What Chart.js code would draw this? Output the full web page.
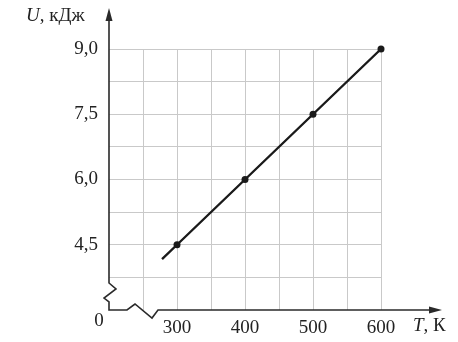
<!DOCTYPE html>
<html>
<head>
<meta charset="utf-8">
<script src="https://cdn.jsdelivr.net/npm/chart.js@4"></script>
<style>
  html, body { margin: 0; padding: 0; background: #fff; }
  #wrap { width: 458px; height: 342px; }
</style>
</head>
<body>
<div id="wrap"><canvas id="chart"></canvas></div>
<script>
// Дані графіка
const temps = [300, 400, 500, 600];        // T, K
const energies = [4.5, 6.0, 7.5, 9.0];     // U, кДж
const lineStart = [278, 4.17];             // початок прямої (без точки)
const xTickValues = [300, 400, 500, 600];
const xTickLabels = ['300', '400', '500', '600'];
const yTickValues = [4.5, 6.0, 7.5, 9.0];
const yTickLabels = ['4,5', '6,0', '7,5', '9,0'];

const FONT = '"Liberation Serif", "DejaVu Serif", serif';
const AXIS = '#2a2a2a';

const points = [{ x: lineStart[0], y: lineStart[1] }].concat(
  temps.map((t, i) => ({ x: t, y: energies[i] }))
);

// осі зі стрілками, розриви і підписи
const axesPlugin = {
  id: 'axesPlugin',
  afterDraw(chart) {
    const ctx = chart.ctx;
    const x = chart.scales.x, y = chart.scales.y;
    const ox = x.getPixelForValue(200);
    const oy = y.getPixelForValue(3.0);
    ctx.save();
    ctx.strokeStyle = AXIS;
    ctx.fillStyle = AXIS;
    ctx.lineWidth = 1.6;

    // вісь U з розривом, потім вісь T з розривом
    ctx.beginPath();
    ctx.moveTo(ox, 18);
    ctx.lineTo(ox, oy - 27);
    ctx.lineTo(ox + 7, oy - 21);
    ctx.lineTo(ox - 5, oy - 12);
    ctx.lineTo(ox, oy - 8);
    ctx.lineTo(ox, oy);
    ctx.lineTo(ox + 18, oy);
    ctx.lineTo(ox + 26, oy - 6);
    ctx.lineTo(ox + 43, oy + 8);
    ctx.lineTo(ox + 49, oy);
    ctx.lineTo(432, oy);
    ctx.stroke();

    // стрілки
    ctx.beginPath();
    ctx.moveTo(ox, 8);
    ctx.lineTo(ox - 3.5, 21);
    ctx.lineTo(ox + 3.5, 21);
    ctx.closePath();
    ctx.fill();
    ctx.beginPath();
    ctx.moveTo(442, oy);
    ctx.lineTo(429, oy - 3.5);
    ctx.lineTo(429, oy + 3.5);
    ctx.closePath();
    ctx.fill();

    // підписи осей
    ctx.fillStyle = '#222';
    ctx.textBaseline = 'middle';
    ctx.textAlign = 'left';
    ctx.font = 'italic 19px ' + FONT;
    ctx.fillText('U', 26, 16);
    let w = ctx.measureText('U').width;
    ctx.font = '19px ' + FONT;
    ctx.fillText(', кДж', 26 + w, 16);

    ctx.font = 'italic 19px ' + FONT;
    ctx.fillText('T', 413, 326);
    w = ctx.measureText('T').width;
    ctx.font = '19px ' + FONT;
    ctx.fillText(', К', 413 + w, 326);

    ctx.textAlign = 'center';
    ctx.fillText('0', 99, 321);
    ctx.restore();
  }
};

new Chart(document.getElementById('chart'), {
  type: 'scatter',
  data: {
    datasets: [{
      data: points,
      showLine: true,
      borderColor: '#1a1a1a',
      backgroundColor: '#1a1a1a',
      borderWidth: 2.4,
      pointRadius: points.map((p, i) => (i === 0 ? 0 : 3.5)),
      pointBorderWidth: 0,
      clip: false
    }]
  },
  options: {
    responsive: true,
    maintainAspectRatio: false,
    animation: false,
    events: [],
    layout: { padding: { left: 0, top: 49, right: 77, bottom: 0 } },
    plugins: { legend: { display: false }, tooltip: { enabled: false } },
    scales: {
      x: {
        type: 'linear',
        min: 200,
        max: 600,
        afterFit(s) { s.height = 32; },
        afterBuildTicks(s) {
          s.ticks = [];
          for (let v = 200; v <= 600; v += 50) s.ticks.push({ value: v });
        },
        border: { display: false },
        grid: {
          drawTicks: false,
          lineWidth: 1,
          color: c => (c.tick && c.tick.value === 200 ? 'rgba(0,0,0,0)' : '#c9c9c9')
        },
        ticks: {
          padding: 7,
          color: '#222',
          font: { family: FONT, size: 19 },
          maxRotation: 0,
          autoSkip: false,
          callback: v => {
            const i = xTickValues.indexOf(v);
            return i >= 0 ? xTickLabels[i] : '';
          }
        }
      },
      y: {
        type: 'linear',
        min: 3.0,
        max: 9.0,
        afterFit(s) { s.width = 109; },
        afterBuildTicks(s) {
          s.ticks = [];
          for (let k = 0; k <= 8; k++) s.ticks.push({ value: 3 + k * 0.75 });
        },
        border: { display: false },
        grid: {
          drawTicks: false,
          lineWidth: 1,
          color: c => (c.tick && c.tick.value === 3 ? 'rgba(0,0,0,0)' : '#c9c9c9')
        },
        ticks: {
          padding: 11,
          color: '#222',
          font: { family: FONT, size: 19 },
          autoSkip: false,
          callback: v => {
            const i = yTickValues.findIndex(t => Math.abs(t - v) < 1e-6);
            return i >= 0 ? yTickLabels[i] : '';
          }
        }
      }
    }
  },
  plugins: [axesPlugin]
});
</script>
</body>
</html>
